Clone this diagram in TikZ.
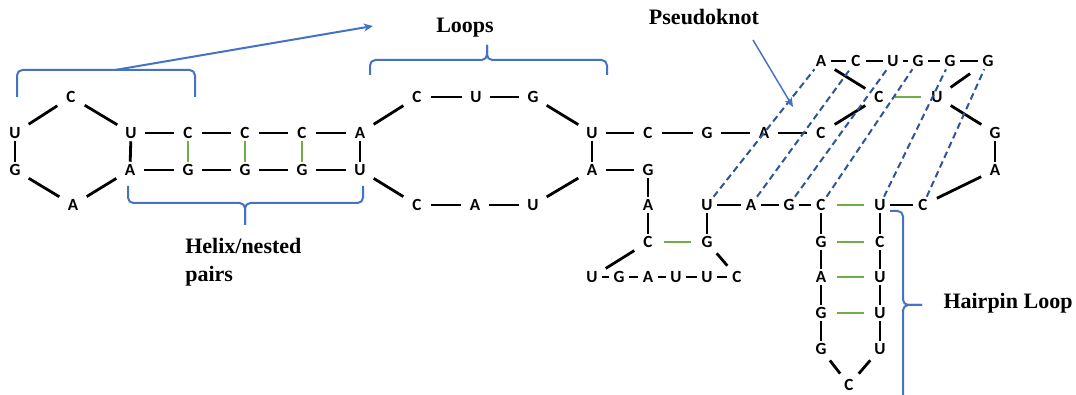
\documentclass[tikz,border=0pt]{standalone}
\usepackage{fontspec}
\setmainfont{Liberation Serif}
\newfontfamily\ntfont{Carlito}
\usetikzlibrary{arrows.meta}
\definecolor{bracketblue}{RGB}{68,114,196}
\definecolor{knotblue}{RGB}{47,85,151}
\definecolor{pairgreen}{RGB}{112,173,71}
\tikzset{
  nt/.style={rectangle, inner sep=0pt, minimum width=15pt, minimum height=12pt,
    font=\ntfont\bfseries\fontsize{12.8}{13}\selectfont},
  lbl/.style={font=\bfseries\fontsize{16.5}{21}\selectfont, inner sep=0pt},
  bond/.style={black, line width=2.1pt},
  lbond/.style={bond, shorten <=3pt, shorten >=3pt},
  pair/.style={pairgreen, line width=1.7pt},
  hpair/.style={pair, line width=1.9pt, shorten <=4.5pt, shorten >=4.5pt},
  knot/.style={knotblue, line width=1.5pt, dash pattern=on 5pt off 3pt},
  brace/.style={bracketblue, line width=1.5pt, rounded corners=4pt},
  pointer/.style={bracketblue, line width=1.5pt, -{Stealth[length=7pt,width=6pt]}}
}
\begin{document}
\begin{tikzpicture}[x=0.75pt, y=-0.75pt]
\useasboundingbox (0,0) rectangle (1076,395);

% ---- left hairpin loop and helix ----
\node[nt] (h1) at (71,97) {C};
\node[nt] (h2) at (15,133) {U};
\node[nt] (h3) at (15,170) {G};
\node[nt] (h4) at (73,205) {A};
\node[nt] (t1) at (131,133) {U};
\node[nt] (t2) at (188,133) {C};
\node[nt] (t3) at (245,133) {C};
\node[nt] (t4) at (302,133) {C};
\node[nt] (t5) at (360,133) {A};
\node[nt] (b1) at (130,170) {A};
\node[nt] (b2) at (188,170) {G};
\node[nt] (b3) at (245,170) {G};
\node[nt] (b4) at (302,170) {G};
\node[nt] (b5) at (360,170) {U};

% ---- internal loop ----
\node[nt] (m1) at (417,97) {C};
\node[nt] (m2) at (476,97) {U};
\node[nt] (m3) at (533,97) {G};
\node[nt] (m4) at (592,133) {U};
\node[nt] (m5) at (592,170) {A};
\node[nt] (m6) at (533,205) {U};
\node[nt] (m7) at (475,205) {A};
\node[nt] (m8) at (417,205) {C};

% ---- strand towards the pseudoknot ----
\node[nt] (r1) at (648,133) {C};
\node[nt] (r2) at (707,133) {G};
\node[nt] (r3) at (764,133) {A};
\node[nt] (r4) at (821,133) {C};
\node[nt] (k1) at (879,97) {C};
\node[nt] (k2) at (937,97) {U};
\node[nt] (p1) at (821,61) {A};
\node[nt] (p2) at (856,61) {C};
\node[nt] (p3) at (893,61) {U};
\node[nt] (p4) at (918,61) {G};
\node[nt] (p5) at (950,61) {G};
\node[nt] (p6) at (988,61) {G};
\node[nt] (q1) at (995,133) {G};
\node[nt] (q2) at (995,170) {A};
\node[nt] (s1) at (707,205) {U};
\node[nt] (s2) at (751,205) {A};
\node[nt] (s3) at (789,205) {G};
\node[nt] (s4) at (821,205) {C};
\node[nt] (s5) at (880,205) {U};
\node[nt] (s6) at (923,205) {C};

% ---- small branch ----
\node[nt] (g1) at (648,170) {G};
\node[nt] (g2) at (648,205) {A};
\node[nt] (g3) at (648,242) {C};
\node[nt] (g4) at (707,242) {G};
\node[nt] (w1) at (592,277) {U};
\node[nt] (w2) at (619,277) {G};
\node[nt] (w3) at (648,277) {A};
\node[nt] (w4) at (676,277) {U};
\node[nt] (w5) at (707,277) {U};
\node[nt] (w6) at (737,277) {C};

% ---- hairpin stem ----
\node[nt] (L1) at (821,242) {G};
\node[nt] (L2) at (821,277) {A};
\node[nt] (L3) at (821,313) {G};
\node[nt] (L4) at (821,349) {G};
\node[nt] (R1) at (880,242) {C};
\node[nt] (R2) at (880,277) {U};
\node[nt] (R3) at (880,313) {U};
\node[nt] (R4) at (880,349) {U};
\node[nt] (hc) at (849,385) {C};

% ---- backbone ----
\draw[lbond] (h1) -- (h2);
\draw[bond] (h2) -- (h3);
\draw[lbond] (h3) -- (h4);
\draw[lbond] (h4) -- (b1);
\draw[lbond] (h1) -- (t1);
\draw[bond] (t1) -- (b1);
\foreach \a/\b in {t1/t2,t2/t3,t3/t4,t4/t5,b1/b2,b2/b3,b3/b4,b4/b5}
  \draw[lbond] (\a) -- (\b);
\draw[bond] (t5) -- (b5);
\foreach \a/\b in {t5/m1,m1/m2,m2/m3,m3/m4,m5/m6,m6/m7,m7/m8,m8/b5}
  \draw[lbond] (\a) -- (\b);
\draw[bond] (m4) -- (m5);
\foreach \a/\b in {m4/r1,r1/r2,r2/r3,r3/r4,r4/k1,p1/k1,k2/q1,q2/s6,m5/g1,g3/w1,g4/w6}
  \draw[lbond] (\a) -- (\b);
\draw[bond, shorten <=3pt, shorten >=7pt] (k2) -- (p6);
\foreach \a/\b in {p1/p2,p2/p3,p3/p4,p4/p5,p5/p6,s1/s2,s2/s3,s3/s4,s5/s6,
                   w1/w2,w2/w3,w3/w4,w4/w5,w5/w6}
  \draw[bond] (\a) -- (\b);
\foreach \a/\b in {q1/q2,g1/g2,g2/g3,g4/s1,s4/L1,L1/L2,L2/L3,L3/L4,s5/R1,R1/R2,R2/R3,R3/R4}
  \draw[bond] (\a) -- (\b);
\draw[lbond] (L4) -- (hc);
\draw[lbond] (R4) -- (hc);

% ---- base pairs ----
\foreach \a/\b in {t2/b2,t3/b3,t4/b4}
  \draw[pair] (\a) -- (\b);
\foreach \a/\b in {k1/k2,g3/g4,s4/s5,L1/R1,L2/R2,L3/R3}
  \draw[hpair] (\a) -- (\b);

% ---- pseudoknot pairs ----
\foreach \a/\b in {s1/p1,s2/p2,s3/p3,s4/p4,s5/p5,s6/p6}
  \draw[knot] (\a) -- (\b);

% ---- brackets and labels ----
\coordinate (lbtip) at (115,70);
\coordinate (lbhead) at (373,26);
\draw[brace] (17,97) -- (17,70) -- (195,70) -- (195,97);
\draw[pointer] (lbtip) -- (lbhead);

\draw[brace] (370,75) -- (370,60) -- (487,60) -- (487,45);
\draw[brace] (607,75) -- (607,60) -- (487,60) -- (487,45);
\node[lbl] (loops) at (465,28) {Loops};

\draw[brace] (128,186) -- (128,203) -- (245,203) -- (245,225);
\draw[brace] (363,186) -- (363,203) -- (245,203) -- (245,225);
\node[lbl, align=left, anchor=north west] (helix) at (185,238) {Helix/nested\\pairs};

\node[lbl] (pk) at (704,17) {Pseudoknot};
\coordinate (pkfrom) at (753,40);
\coordinate (pkto) at (793,107);
\draw[pointer, line width=1.1pt] (pkfrom) -- (pkto);

\draw[brace] (890,211) -- (903,211) -- (903,305) -- (922,305);
\draw[brace] (903,398) -- (903,305) -- (922,305);
\node[lbl] (hp) at (1008,303) {Hairpin Loop};
\end{tikzpicture}
\end{document}
